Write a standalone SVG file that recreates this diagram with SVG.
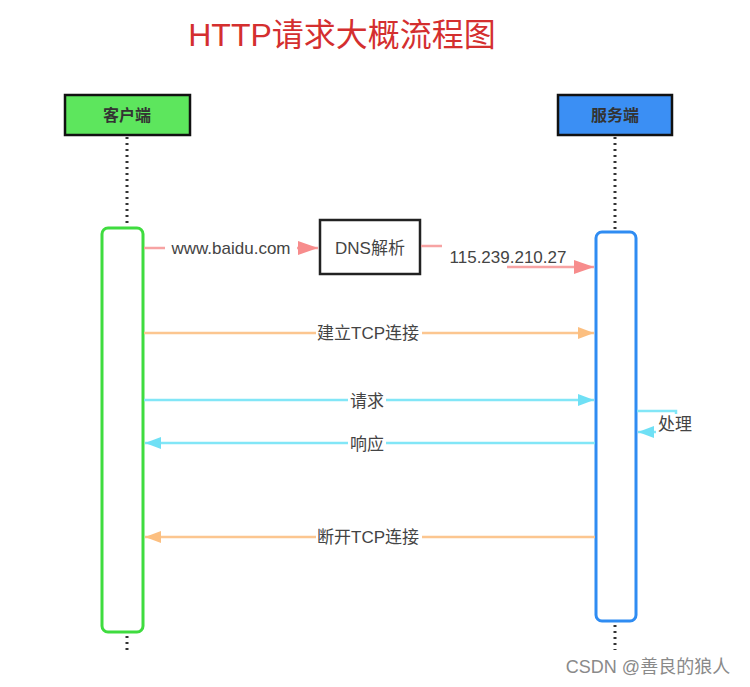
<svg xmlns="http://www.w3.org/2000/svg" width="750" height="687" viewBox="0 0 750 687">
<defs>
<style>
.t{font-family:"Liberation Sans","Noto Sans CJK SC",sans-serif;font-size:17px;fill:#444;text-anchor:middle}
.hd{font-family:"Noto Sans CJK SC","Liberation Sans",sans-serif;font-size:16px;font-weight:bold;fill:#333;text-anchor:middle}
.life{stroke:#333;stroke-width:3;stroke-dasharray:2 4;fill:none}
.pink{stroke:#f7a3a3;stroke-width:2.5;fill:none}
.orange{stroke:#fcc690;stroke-width:2.5;fill:none}
.cyan{stroke:#82e6f7;stroke-width:2.5;fill:none}
.bg{fill:#fff}
</style>
<marker id="mpb" viewBox="0 0 20 14" markerWidth="20" markerHeight="14" refX="20" refY="7" orient="auto" markerUnits="userSpaceOnUse"><path d="M0,0 L20,7 L0,14 Z" fill="#f78c8c"/></marker>
<marker id="mo" viewBox="0 0 16 12" markerWidth="16" markerHeight="12" refX="16" refY="6" orient="auto" markerUnits="userSpaceOnUse"><path d="M0,0 L16,6 L0,12 Z" fill="#fcbf80"/></marker>
<marker id="mc" viewBox="0 0 16 12" markerWidth="16" markerHeight="12" refX="16" refY="6" orient="auto" markerUnits="userSpaceOnUse"><path d="M0,0 L16,6 L0,12 Z" fill="#6fe0f5"/></marker>
</defs>
<rect width="750" height="687" fill="#fff"/>
<text x="342" y="46" style="font-family:'Liberation Sans','Noto Sans CJK SC',sans-serif;font-size:32px;fill:#d42f2f;text-anchor:middle">HTTP请求大概流程图</text>

<g id="lifelines">
<path class="life" d="M127,137 V226"/>
<path class="life" d="M127,636 V650"/>
<path class="life" d="M615,137 V230"/>
<path class="life" d="M615,625 V650"/>
</g>

<g id="client">
<rect x="65" y="95" width="125" height="40" fill="#5de65d" stroke="#111" stroke-width="2.5"/>
<text class="hd" x="127" y="121">客户端</text>
</g>
<g id="server">
<rect x="558" y="95" width="114" height="40" fill="#3b8ff4" stroke="#111" stroke-width="2.5"/>
<text class="hd" x="615" y="121">服务端</text>
</g>
<g id="client-activation">
<rect x="102" y="228" width="41" height="404" rx="6" fill="#fff" stroke="#3fdc3f" stroke-width="3"/>
</g>
<g id="server-activation">
<rect x="596" y="232" width="40" height="389" rx="6" fill="#fff" stroke="#2f8cf2" stroke-width="3"/>
</g>
<g id="dns">
<rect x="320" y="220" width="100" height="54" fill="#fff" stroke="#222" stroke-width="2.5"/>
<text class="t" x="370" y="254">DNS解析</text>
</g>

<g id="connectors">
<path class="pink" d="M144,248 H318" marker-end="url(#mpb)"/>
<rect class="bg" x="165" y="237" width="132" height="22"/>
<text class="t" x="231" y="254">www.baidu.com</text>

<path class="pink" d="M421,246 H442"/>
<path class="pink" d="M507,267 H594" marker-end="url(#mpb)"/>
<text class="t" x="508" y="263">115.239.210.27</text>

<path class="orange" d="M144,333 H594" marker-end="url(#mo)"/>
<rect class="bg" x="316" y="323" width="106" height="22"/>
<text class="t" x="368" y="339">建立TCP连接</text>

<path class="cyan" d="M144,400 H594" marker-end="url(#mc)"/>
<rect class="bg" x="348" y="390" width="38" height="22"/>
<text class="t" x="367" y="407">请求</text>

<path class="cyan" d="M595,443 H145" marker-end="url(#mc)"/>
<rect class="bg" x="348" y="433" width="38" height="22"/>
<text class="t" x="367" y="450">响应</text>

<path class="cyan" d="M637,411 H676 V432 H638" marker-end="url(#mc)"/>
<rect class="bg" x="656" y="414" width="38" height="20"/>
<text class="t" x="675" y="430">处理</text>

<path class="orange" d="M595,537 H145" marker-end="url(#mo)"/>
<rect class="bg" x="316" y="527" width="106" height="22"/>
<text class="t" x="368" y="543">断开TCP连接</text>
</g>

<text x="648" y="673" style="font-family:'Liberation Sans','Noto Sans CJK SC',sans-serif;font-size:18px;fill:#8a8a8a;text-anchor:middle">CSDN @善良的狼人</text>
</svg>
